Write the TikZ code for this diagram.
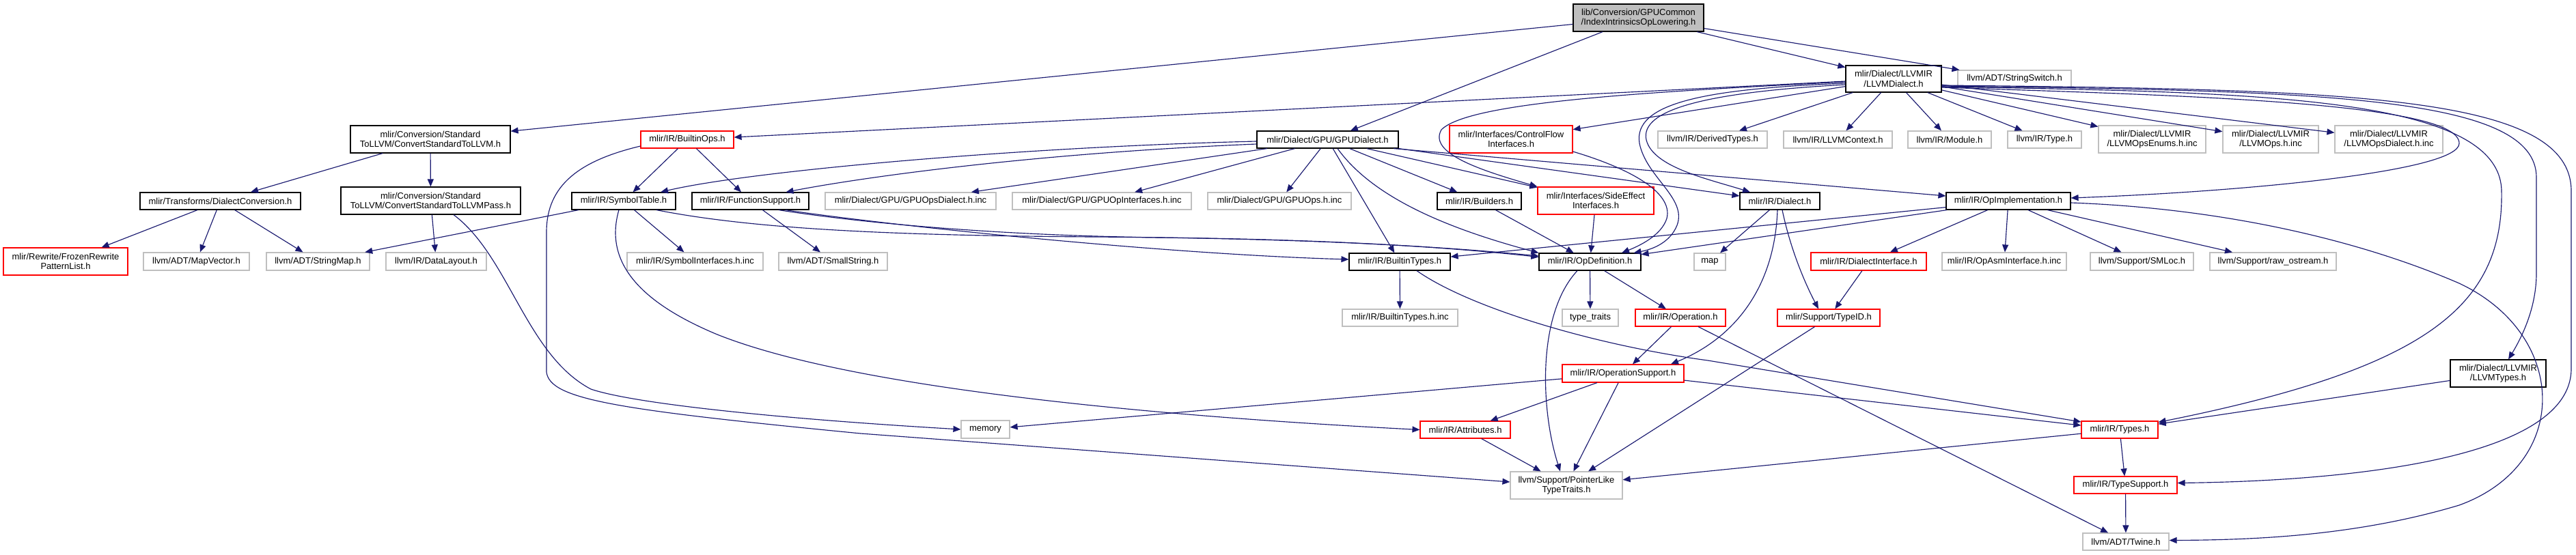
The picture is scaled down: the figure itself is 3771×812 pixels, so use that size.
\documentclass[tikz,border=0pt]{standalone}
\usepackage{fontspec}
\setmainfont{Liberation Sans}
\usetikzlibrary{arrows.meta}
\definecolor{edgec}{RGB}{25,25,112}
\definecolor{gbord}{RGB}{191,191,191}
\definecolor{rbord}{RGB}{255,0,0}
\definecolor{topfill}{RGB}{191,191,191}
\begin{document}
\begin{tikzpicture}[x=1pt,y=-1pt,
 nb/.style={draw=black,line width=1.15pt,fill=white,inner sep=0pt,align=center,font=\fontsize{13}{14.5}\selectfont,text=black,minimum height=25pt},
 gb/.style={nb,draw=gbord,line width=1.2pt},
 rb/.style={nb,draw=rbord,line width=1.15pt},
 tall/.style={minimum height=40pt},
 e/.style={draw=edgec,line width=1.15pt,-{Triangle[length=11pt,width=9pt]}},
]
\fill[white] (0,0) rectangle (3771,812);
\useasboundingbox (0,0) rectangle (3771,812);
% rank 0
\node[nb,fill=topfill,tall,minimum width=191pt] (top) at (2398.5,26) {lib/Conversion/GPUCommon\\/IndexIntrinsicsOpLowering.h};
% rank 1
\node[nb,tall,minimum width=140pt,minimum height=39pt] (llvmd) at (2772,115.5) {mlir/Dialect/LLVMIR\\/LLVMDialect.h};
\node[gb,minimum width=166pt] (strsw) at (2949,115.5) {llvm/ADT/StringSwitch.h};
% rank 2
\node[nb,tall,minimum width=234pt] (cstl) at (630,204) {mlir/Conversion/Standard\\ToLLVM/ConvertStandardToLLVM.h};
\node[rb,minimum width=136pt] (bops) at (1006,204.5) {mlir/IR/BuiltinOps.h};
\node[nb,minimum width=207pt] (gpud) at (1943.5,204.5) {mlir/Dialect/GPU/GPUDialect.h};
\node[rb,tall,minimum width=180pt] (cfi) at (2212,204) {mlir/Interfaces/ControlFlow\\Interfaces.h};
\node[gb,minimum width=160pt] (derived) at (2507,204.5) {llvm/IR/DerivedTypes.h};
\node[gb,minimum width=159pt] (ctx) at (2690.5,204.5) {llvm/IR/LLVMContext.h};
\node[gb,minimum width=122pt] (module) at (2854,204.5) {llvm/IR/Module.h};
\node[gb,minimum width=108pt] (ltype) at (2993,204.5) {llvm/IR/Type.h};
\node[gb,tall,minimum width=157pt] (enums) at (3150.5,204) {mlir/Dialect/LLVMIR\\/LLVMOpsEnums.h.inc};
\node[gb,tall,minimum width=140pt] (lops) at (3324,204) {mlir/Dialect/LLVMIR\\/LLVMOps.h.inc};
\node[gb,tall,minimum width=158pt] (lopsd) at (3497,204) {mlir/Dialect/LLVMIR\\/LLVMOpsDialect.h.inc};
% rank 3
\node[nb,minimum width=235pt] (dconv) at (322.5,294.5) {mlir/Transforms/DialectConversion.h};
\node[nb,tall,minimum width=263pt] (pass) at (630.5,294) {mlir/Conversion/Standard\\ToLLVM/ConvertStandardToLLVMPass.h};
\node[nb,minimum width=152pt] (symtab) at (913,294.5) {mlir/IR/SymbolTable.h};
\node[nb,minimum width=171pt] (funcsup) at (1098.5,294.5) {mlir/IR/FunctionSupport.h};
\node[gb,minimum width=250pt] (gpuopsd) at (1333,294.5) {mlir/Dialect/GPU/GPUOpsDialect.h.inc};
\node[gb,minimum width=262pt] (gpuopif) at (1613,294.5) {mlir/Dialect/GPU/GPUOpInterfaces.h.inc};
\node[gb,minimum width=210pt] (gpuops) at (1873,294.5) {mlir/Dialect/GPU/GPUOps.h.inc};
\node[nb,minimum width=123pt] (builders) at (2165.5,294.5) {mlir/IR/Builders.h};
\node[rb,tall,minimum width=170pt] (sidefx) at (2336,294) {mlir/Interfaces/SideEffect\\Interfaces.h};
\node[nb,minimum width=117pt] (dialect) at (2605.5,294.5) {mlir/IR/Dialect.h};
\node[nb,minimum width=182pt] (opimpl) at (2940,294.5) {mlir/IR/OpImplementation.h};
% rank 4
\node[rb,tall,minimum width=182pt] (frozen) at (96,383) {mlir/Rewrite/FrozenRewrite\\PatternList.h};
\node[gb,minimum width=155pt,minimum height=26pt] (mapvec) at (287.5,383) {llvm/ADT/MapVector.h};
\node[gb,minimum width=151pt,minimum height=26pt] (strmap) at (465.5,383) {llvm/ADT/StringMap.h};
\node[gb,minimum width=147pt,minimum height=26pt] (datalayout) at (638.5,383) {llvm/IR/DataLayout.h};
\node[gb,minimum width=199pt,minimum height=26pt] (symif) at (1017.5,383) {mlir/IR/SymbolInterfaces.h.inc};
\node[gb,minimum width=159pt,minimum height=26pt] (smallstr) at (1219.5,383) {llvm/ADT/SmallString.h};
\node[nb,minimum width=148pt] (btypes) at (2049,383.5) {mlir/IR/BuiltinTypes.h};
\node[nb,minimum width=149pt] (opdef) at (2327.5,383.5) {mlir/IR/OpDefinition.h};
\node[gb,minimum width=46pt] (map) at (2503,383.5) {map};
\node[rb,minimum width=169pt,minimum height=26pt] (dialif) at (2735.5,383) {mlir/IR/DialectInterface.h};
\node[gb,minimum width=182pt,minimum height=26pt] (opasm) at (2934,383) {mlir/IR/OpAsmInterface.h.inc};
\node[gb,minimum width=151pt,minimum height=26pt] (smloc) at (3135.5,383) {llvm/Support/SMLoc.h};
\node[gb,minimum width=185pt,minimum height=26pt] (rawos) at (3327.5,383) {llvm/Support/raw\_ostream.h};
% rank 5
\node[gb,minimum width=169pt] (btinc) at (2049.5,465.5) {mlir/IR/BuiltinTypes.h.inc};
\node[gb,minimum width=82pt] (ttraits) at (2328,465.5) {type\_traits};
\node[rb,minimum width=132pt] (operation) at (2460,465.5) {mlir/IR/Operation.h};
\node[rb,minimum width=150pt] (typeid) at (2677,465.5) {mlir/Support/TypeID.h};
% rank 6
\node[nb,tall,minimum width=140pt] (llvmtypes) at (3657,547) {mlir/Dialect/LLVMIR\\/LLVMTypes.h};
\node[rb,minimum width=178pt,minimum height=26pt] (opsup) at (2376,547) {mlir/IR/OperationSupport.h};
% rank 7
\node[gb,minimum width=71pt,minimum height=26pt] (memory) at (1442.5,629) {memory};
\node[rb,minimum width=132pt] (attrs) at (2145,629.5) {mlir/IR/Attributes.h};
\node[rb,minimum width=112pt] (types) at (3103,629.5) {mlir/IR/Types.h};
% rank 8
\node[gb,tall,minimum width=164pt] (ptrlike) at (2293,711) {llvm/Support/PointerLike\\TypeTraits.h};
\node[rb,minimum width=151pt] (tsupport) at (3111.5,710.5) {mlir/IR/TypeSupport.h};
% rank 9
\node[gb,minimum width=126pt] (twine) at (3112,793.5) {llvm/ADT/Twine.h};

% ---- edges ----
\draw[e] (top) -- (cstl);
\draw[e] (top) -- (gpud);
\draw[e] (top) -- (llvmd);
\draw[e] (top) -- (strsw);
\draw[e] (cstl) -- (dconv);
\draw[e] (cstl) -- (pass);
\draw[e] (dconv) -- (frozen);
\draw[e] (dconv) -- (mapvec);
\draw[e] (dconv) -- (strmap);
\draw[e] (pass) -- (datalayout);
\draw[e] ([xshift=33.5pt]pass.south) .. controls (745,375) and (770,520) .. (865,570) .. controls (930,592) and (1150,614) .. (memory.west);
\draw[e] (bops) -- (symtab);
\draw[e] (bops) -- (funcsup);
\draw[e] ([yshift=-9.5pt]bops.west) .. controls (850,235) and (800,270) .. (800,340) -- (800,545) .. controls (805,585) and (900,600) .. (1260,635) -- ([yshift=5pt]ptrlike.west);
\draw[e] (symtab) -- (strmap);
\draw[e] (symtab) -- (symif);
\draw[e] ([xshift=-7pt]symtab.south) .. controls (885,380) and (930,440) .. (1050,490) .. controls (1250,570) and (1700,610) .. (attrs.west);
\draw[e] ([xshift=48pt]symtab.south) .. controls (1100,335) and (1300,345) .. (1600,347) .. controls (1900,349) and (2100,360) .. ([yshift=8.5pt]opdef.west);
\draw[e] ([xshift=41.5pt]funcsup.south) .. controls (1250,325) and (1450,345) .. (1700,348) .. controls (1950,351) and (2120,362) .. ([yshift=7pt]opdef.west);
\draw[e] ([xshift=51.5pt]funcsup.south) .. controls (1300,330) and (1700,372) .. ([yshift=3.5pt]btypes.west);
\draw[e] (funcsup) -- (smallstr);
\draw[e] ([yshift=-2.5pt]gpud.west) .. controls (1500,215) and (1100,250) .. ([xshift=54pt]symtab.north);
\draw[e] ([yshift=-6.5pt]gpud.west) .. controls (1500,225) and (1250,262) .. ([xshift=52pt]funcsup.north);
\draw[e] (gpud) -- (gpuopsd);
\draw[e] (gpud) -- (gpuopif);
\draw[e] (gpud) -- (gpuops);
\draw[e] (gpud) -- (btypes);
\draw[e] ([xshift=14.5pt]gpud.south) .. controls (2010,290) and (2120,335) .. (opdef.north west);
\draw[e] (gpud) -- (builders);
\draw[e] (gpud) -- (sidefx);
\draw[e] (gpud.south east) -- ([yshift=7.5pt]dialect.west);
\draw[e] ([xshift=96.5pt]gpud.south) -- ([yshift=7.5pt]opimpl.west);
\draw[e] ([yshift=-4.5pt]llvmd.west) .. controls (2400,135) and (2150,150) .. (2110,190) .. controls (2090,225) and (2170,250) .. (sidefx.north west);
\draw[e] ([yshift=-6.5pt]llvmd.west) .. controls (2500,130) and (2390,150) .. (2400,210) .. controls (2410,260) and (2470,290) .. (2455,330) .. controls (2445,355) and (2420,365) .. ([xshift=-11pt]opdef.north east);
\draw[e] ([yshift=-8.5pt]llvmd.west) .. controls (2500,135) and (2400,160) .. (2410,205) .. controls (2420,245) and (2500,262) .. ([xshift=-43.5pt]dialect.north);
\draw[e] (llvmd) -- (bops);
\draw[e] (llvmd) -- (cfi);
\draw[e] (llvmd) -- (derived);
\draw[e] (llvmd) -- (ctx);
\draw[e] (llvmd) -- (module);
\draw[e] (llvmd) -- (ltype);
\draw[e] (llvmd) -- (enums);
\draw[e] (llvmd) -- (lops);
\draw[e] (llvmd) -- (lopsd);
\draw[e] ([yshift=-12.5pt]llvmd.east) .. controls (3200,140) and (3600,150) .. (3600,210) .. controls (3600,250) and (3300,280) .. ([yshift=4.5pt]opimpl.east);
\draw[e] ([yshift=-11.5pt]llvmd.east) .. controls (3300,135) and (3660,140) .. (3662,280) .. controls (3665,450) and (3550,540) .. ([yshift=11pt]types.east);
\draw[e] ([yshift=-10.5pt]llvmd.east) .. controls (3400,133) and (3713,140) .. (3713,260) -- (3713,400) .. controls (3713,440) and (3700,480) .. ([xshift=15pt]llvmtypes.north);
\draw[e] ([yshift=-9.5pt]llvmd.east) .. controls (3450,131) and (3764,140) .. (3764,280) -- (3764,540) .. controls (3764,680) and (3400,705) .. ([yshift=3pt]tsupport.east);
\draw[e] (dialect) -- (map);
\draw[e] ([xshift=-3.5pt]dialect.south) .. controls (2598,420) and (2540,495) .. ([xshift=70pt]opsup.north);
\draw[e] ([xshift=3.5pt]dialect.south) .. controls (2622,370) and (2645,420) .. ([xshift=-15pt]typeid.north);
\draw[e] ([yshift=-18pt]cfi.east) .. controls (2380,245) and (2450,280) .. (2440,320) .. controls (2432,345) and (2400,360) .. ([xshift=46.5pt]opdef.north);
\draw[e] (builders) -- (opdef);
\draw[e] (sidefx) -- (opdef);
\draw[e] (opimpl) -- (btypes);
\draw[e] (opimpl) -- (opdef);
\draw[e] (opimpl) -- (dialif);
\draw[e] (opimpl) -- (opasm);
\draw[e] (opimpl) -- (smloc);
\draw[e] (opimpl) -- (rawos);
\draw[e] ([yshift=-2.5pt]opimpl.east) .. controls (3250,305) and (3450,350) .. (3600,415) .. controls (3760,490) and (3765,680) .. (3600,740) .. controls (3450,785) and (3300,791) .. ([yshift=2pt]twine.east);
\draw[e] (btypes) -- (btinc);
\draw[e] ([xshift=25pt]btypes.south) .. controls (2150,450) and (2330,505) .. (2500,528) -- ([yshift=11.5pt]types.west);
\draw[e] (opdef) -- (ttraits);
\draw[e] (opdef) -- (operation);
\draw[e] ([xshift=-18.5pt]opdef.south) .. controls (2250,460) and (2255,600) .. ([xshift=-9pt]ptrlike.north);
\draw[e] (operation) -- (opsup);
\draw[e] (operation) -- (twine);
\draw[e] (opsup) -- (memory);
\draw[e] (opsup) -- (attrs);
\draw[e] (opsup) -- (ptrlike);
\draw[e] (opsup) -- (types);
\draw[e] (attrs) -- (ptrlike);
\draw[e] (typeid) -- (ptrlike);
\draw[e] (types) -- (ptrlike);
\draw[e] (types) -- (tsupport);
\draw[e] (tsupport) -- (twine);
\draw[e] (llvmtypes) -- (types);
\draw[e] (dialif) -- (typeid);
\end{tikzpicture}
\end{document}
